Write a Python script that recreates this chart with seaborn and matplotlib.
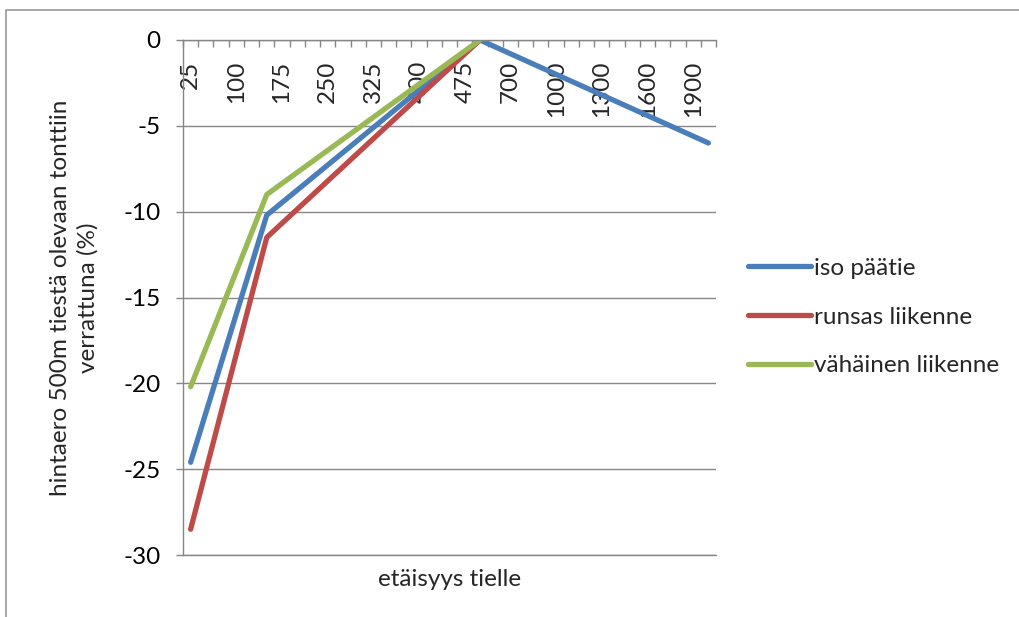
import numpy as np
import pandas as pd
import matplotlib
matplotlib.use("Agg")
import matplotlib.pyplot as plt
from matplotlib.patches import Rectangle
from matplotlib.ticker import FixedLocator
import seaborn as sns

# Distance categories on the x axis (m)
distances = list(range(25, 501, 25)) + list(range(600, 2001, 100))

# Price difference (%) compared with a plot 500 m from the road
iso_paatie_dist = [25, 150, 500, 2000]
iso_paatie = [-24.6, -10.2, 0.0, -6.0]
runsas_dist = [25, 150, 500]
runsas = [-28.5, -11.5, 0.0]
vahainen_dist = [25, 150, 500]
vahainen = [-20.2, -9.0, 0.0]

series_names = ["iso päätie", "runsas liikenne", "vähäinen liikenne"]
colors = ["#4A7EBB", "#BE4B48", "#98B954"]

frames = []
for name, dist, vals in zip(series_names,
                            [iso_paatie_dist, runsas_dist, vahainen_dist],
                            [iso_paatie, runsas, vahainen]):
    frames.append(pd.DataFrame({
        "pos": [distances.index(d) for d in dist],
        "value": vals,
        "series": name,
    }))
df = pd.concat(frames, ignore_index=True)

sns.set_theme(style="white")
plt.rcParams["font.family"] = ["Lato", "DejaVu Sans"]
FS = 17.5
grey = "#868686"

fig = plt.figure(figsize=(10.19, 6.17), dpi=100)
ax = fig.add_axes([183 / 1019, 1 - 555 / 617, (716 - 183) / 1019, (555 - 40) / 617])

sns.lineplot(data=df, x="pos", y="value", hue="series", palette=colors,
             hue_order=series_names, linewidth=3.8, ax=ax, legend=False,
             sort=True, solid_capstyle="round")

ax.set_xlim(-0.5, len(distances) - 0.5)
ax.set_ylim(-30, 0)

# y axis
yticks = np.arange(-30, 1, 5)
ax.set_yticks(yticks)
ax.set_yticklabels([str(int(v)) for v in yticks], fontsize=FS)
ax.tick_params(axis="y", direction="out", length=5, width=1, color=grey,
               pad=11, left=True, labelcolor="black")
ax.grid(axis="y", color=grey, linewidth=1)
ax.grid(axis="x", visible=False)
ax.axhline(-30, color=grey, linewidth=1, clip_on=False, zorder=0.5)
ax.set_axisbelow(True)

# x axis sits on the zero line
for s in ["top", "right"]:
    ax.spines[s].set_visible(False)
ax.spines["left"].set_color(grey)
ax.spines["bottom"].set_color(grey)
ax.spines["bottom"].set_position(("data", 0))
ax.spines["left"].set_linewidth(1)
ax.spines["bottom"].set_linewidth(1)

label_idx = list(range(0, len(distances), 3))
ax.xaxis.set_major_locator(FixedLocator(label_idx))
ax.set_xticklabels([str(distances[i]) for i in label_idx], rotation=90,
                   fontsize=FS, va="top", ha="center")
ax.xaxis.set_minor_locator(FixedLocator(np.arange(-0.5, len(distances), 1)))
ax.tick_params(axis="x", which="major", length=0, pad=15)
ax.tick_params(axis="x", which="minor", direction="out", length=5, width=1,
               color=grey, bottom=True)

ax.set_xlabel("etäisyys tielle", fontsize=FS)
ax.xaxis.set_label_coords(0.5, -0.028)
ax.set_ylabel("hintaero 500m tiestä olevaan tonttiin\nverrattuna (%)",
              fontsize=FS, labelpad=18, linespacing=1.35)

# legend
handles = [plt.Line2D([0], [0], color=c, lw=3.8, solid_capstyle="round") for c in colors]
fig.legend(handles, series_names, loc="center left",
           bbox_to_anchor=(726 / 1019, 1 - 317 / 617), frameon=False,
           fontsize=FS, handlelength=2.6, handletextpad=0.12,
           labelspacing=1.15)

# chart border
fig.add_artist(Rectangle((6 / 1019, -0.1), 2, 1.1 - 10 / 617,
                         transform=fig.transFigure, fill=False,
                         edgecolor="#9a9a9a", linewidth=1.2))

fig.savefig("out.png", dpi=100)
